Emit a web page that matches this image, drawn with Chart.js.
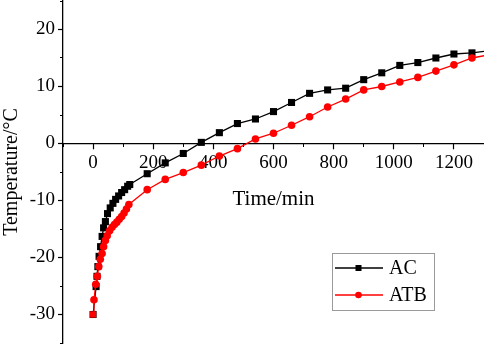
<!DOCTYPE html>
<html>
<head>
<meta charset="utf-8">
<script src="https://cdn.jsdelivr.net/npm/chart.js@4/dist/chart.umd.min.js"></script>
<style>html,body{margin:0;background:#fff}</style>
</head>
<body>
<canvas id="c" width="484" height="345"></canvas>
<script>
// data
const acTime = [0, 10, 13, 16, 20, 25, 30, 35, 41, 48, 57, 66, 75, 85, 95, 105, 115, 122,
  180, 240, 300, 360, 420, 480, 540, 600, 660, 720, 780, 840, 900, 960, 1020, 1080, 1140, 1200, 1260, 1320];
const acTemp = [-30, -25.1, -23.3, -21.6, -19.8, -18.1, -16.3, -14.8, -13.7, -12.3, -11.3, -10.5, -9.8, -9.2, -8.6, -8.1, -7.5, -7.2,
  -5.3, -3.4, -1.75, 0.2, 1.9, 3.5, 4.3, 5.6, 7.2, 8.8, 9.4, 9.7, 11.2, 12.4, 13.7, 14.2, 15.0, 15.7, 15.9, 16.3];
const atbTime = [0, 3, 9, 14, 19, 24, 30, 35, 41, 47, 55, 63, 71, 79, 87, 95, 103, 111, 119,
  180, 240, 300, 360, 420, 480, 540, 600, 660, 720, 780, 840, 900, 960, 1020, 1080, 1140, 1200, 1260, 1320];
const atbTemp = [-30, -27.4, -24.7, -23.3, -21.6, -20.3, -19.3, -18.1, -17.0, -16.2, -15.3, -14.7, -14.2, -13.8, -13.3, -12.8, -12.2, -11.5, -10.7,
  -8.1, -6.3, -5.1, -3.8, -2.2, -0.9, 0.8, 1.8, 3.2, 4.7, 6.4, 7.8, 9.4, 10.0, 10.8, 11.6, 12.7, 13.8, 15.0, 15.6];
const xTickLabels = [0, 200, 400, 600, 800, 1000, 1200];
const yTickLabels = [-30, -20, -10, 0, 10, 20];
const seriesNames = ['AC', 'ATB'];

const FONT = 'Liberation Serif, Times New Roman, serif';

// legend with a frame, drawn after the chart
const legendBox = {
  id: 'legendBox',
  afterDraw(chart) {
    const ctx = chart.ctx;
    ctx.save();
    ctx.strokeStyle = '#9a9a9a';
    ctx.lineWidth = 1;
    ctx.strokeRect(332.5, 253.5, 102, 57);
    chart.data.datasets.forEach((ds, i) => {
      const y = 268 + i * 27;
      ctx.strokeStyle = ds.borderColor;
      ctx.lineWidth = 1.3;
      ctx.beginPath();
      ctx.moveTo(335, y);
      ctx.lineTo(383, y);
      ctx.stroke();
      ctx.fillStyle = ds.borderColor;
      if (i === 0) {
        ctx.fillRect(355.5, y - 3, 6, 6);
      } else {
        ctx.beginPath();
        ctx.arc(358.5, y, 3.3, 0, Math.PI * 2);
        ctx.fill();
      }
      ctx.fillStyle = '#000';
      ctx.font = '20px ' + FONT;
      ctx.textBaseline = 'middle';
      ctx.fillText(ds.label, 389, y + 1);
    });
    ctx.restore();
  }
};

const toPoints = (xs, ys) => xs.map((x, i) => ({x: x, y: ys[i]}));
const noPad = s => { s.paddingTop = 0; s.paddingBottom = 0; s.paddingLeft = 0; s.paddingRight = 0; };

new Chart(document.getElementById('c'), {
  type: 'line',
  data: {
    datasets: [{
      label: seriesNames[0],
      data: toPoints(acTime, acTemp),
      borderColor: '#000000',
      backgroundColor: '#000000',
      borderWidth: 1.3,
      pointStyle: 'rect',
      pointRadius: 5,
      pointBorderWidth: 0,
      order: 1,
      xAxisID: 'x', yAxisID: 'y'
    }, {
      label: seriesNames[1],
      data: toPoints(atbTime, atbTemp),
      borderColor: '#ff0000',
      backgroundColor: '#ff0000',
      borderWidth: 1.3,
      pointStyle: c => c.dataIndex === 0 ? 'rect' : 'circle',
      pointRadius: c => c.dataIndex === 0 ? 4.5 : 3.8,
      pointBorderWidth: 0,
      order: 0,
      xAxisID: 'x', yAxisID: 'y'
    }]
  },
  options: {
    responsive: false,
    animation: false,
    layout: {autoPadding: false, padding: {top: 1, right: 0, bottom: 2, left: 0}},
    plugins: {legend: {display: false}, tooltip: {enabled: false}},
    scales: {
      x: {
        type: 'linear',
        position: {y: 0},
        min: -100, max: 1300,
        afterBuildTicks: s => { s.ticks = xTickLabels.map(v => ({value: v})); },
        afterFit: noPad,
        border: {color: '#000', width: 1.3},
        grid: {drawOnChartArea: false, tickLength: 5, tickColor: '#000', tickWidth: 1.2},
        ticks: {color: '#000', font: {family: FONT, size: 19}, padding: 3, maxRotation: 0, callback: v => String(v)},
        title: {display: true, text: 'Time/min', color: '#000', font: {family: FONT, size: 21}, padding: {top: 10, bottom: 0}}
      },
      y: {
        type: 'linear',
        position: 'left',
        min: -35, max: 25,
        afterBuildTicks: s => { s.ticks = yTickLabels.map(v => ({value: v})); },
        afterFit: s => { s.width = 63; noPad(s); },
        border: {color: '#000', width: 1.3},
        grid: {drawOnChartArea: false, tickLength: 5, tickColor: '#000', tickWidth: 1.2},
        ticks: {color: '#000', font: {family: FONT, size: 19}, padding: 3, callback: v => String(v)},
        title: {display: true, text: 'Temperature/°C', color: '#000', font: {family: FONT, size: 20}, padding: 0}
      },
      x2: {
        type: 'linear', axis: 'x',
        position: {y: 0},
        min: -100, max: 1300,
        afterFit: noPad,
        border: {display: false},
        grid: {drawOnChartArea: false, tickLength: 3, tickColor: '#000', tickWidth: 1},
        ticks: {display: false, stepSize: 100}
      },
      y2: {
        type: 'linear', axis: 'y',
        position: {x: -100},
        min: -35, max: 25,
        afterFit: noPad,
        border: {display: false},
        grid: {drawOnChartArea: false, tickLength: 3, tickColor: '#000', tickWidth: 1},
        ticks: {display: false, stepSize: 5}
      }
    }
  },
  plugins: [legendBox]
});
</script>
</body>
</html>
